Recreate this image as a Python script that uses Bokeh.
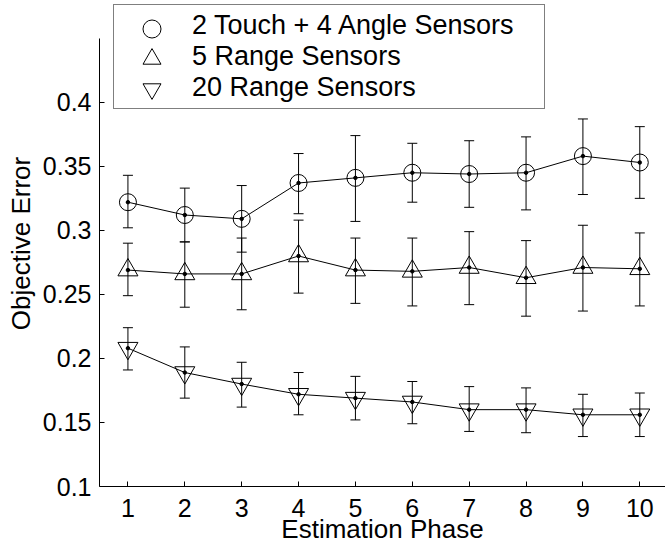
from bokeh.plotting import figure
from bokeh.models import (ColumnDataSource, Whisker, TeeHead, Legend, LegendItem,
                          FixedTicker, Range1d)
from bokeh.embed import file_html
from bokeh.resources import INLINE

# ---------------- data ----------------
phases = [1, 2, 3, 4, 5, 6, 7, 8, 9, 10]

touch_mean = [0.322, 0.312, 0.309, 0.337, 0.341, 0.345, 0.344, 0.345, 0.358, 0.353]
touch_upper = [0.343, 0.333, 0.335, 0.360, 0.374, 0.368, 0.370, 0.373, 0.387, 0.381]
touch_lower = [0.302, 0.291, 0.283, 0.313, 0.307, 0.322, 0.318, 0.316, 0.328, 0.325]

range5_mean = [0.269, 0.266, 0.266, 0.280, 0.269, 0.268, 0.271, 0.263, 0.271, 0.270]
range5_upper = [0.290, 0.291, 0.294, 0.308, 0.294, 0.294, 0.299, 0.292, 0.304, 0.298]
range5_lower = [0.249, 0.240, 0.238, 0.251, 0.243, 0.241, 0.242, 0.233, 0.237, 0.241]

range20_mean = [0.208, 0.189, 0.180, 0.172, 0.169, 0.166, 0.160, 0.160, 0.156, 0.156]
range20_upper = [0.224, 0.209, 0.197, 0.189, 0.186, 0.182, 0.178, 0.177, 0.172, 0.173]
range20_lower = [0.191, 0.169, 0.162, 0.156, 0.152, 0.149, 0.143, 0.142, 0.139, 0.139]

series_labels = ["2 Touch + 4 Angle Sensors", "5 Range Sensors", "20 Range Sensors"]
series_markers = ["circle", "triangle", "inverted_triangle"]

ytick_values = [0.1, 0.15, 0.2, 0.25, 0.3, 0.35, 0.4]
ytick_labels = ["0.1", "0.15", "0.2", "0.25", "0.3", "0.35", "0.4"]

x_label = "Estimation Phase"
y_label = "Objective Error"

# ---------------- figure ----------------
FONT = "Liberation Sans"

p = figure(width=665, height=546, output_backend="svg", toolbar_location=None,
           x_range=Range1d(0.5, 10.452), y_range=Range1d(0.1, 0.4795),
           min_border_left=99, min_border_right=0, min_border_top=0,
           min_border_bottom=58)
p.outline_line_color = None
p.grid.visible = False
p.background_fill_color = "white"
p.border_fill_color = "white"

for ax in (p.xaxis[0], p.yaxis[0]):
    ax.axis_line_color = "black"
    ax.axis_line_width = 1
    ax.major_tick_line_color = "black"
    ax.major_tick_in = 5
    ax.major_tick_out = 0
    ax.minor_tick_line_color = None
    ax.major_label_text_font = FONT
    ax.major_label_text_font_size = "25px"
    ax.major_label_text_color = "black"
    ax.axis_label_text_font = FONT
    ax.axis_label_text_font_size = "26px"
    ax.axis_label_text_font_style = "normal"
    ax.axis_label_text_color = "black"

p.xaxis.ticker = FixedTicker(ticks=phases)
p.xaxis.major_label_standoff = 12
p.xaxis.axis_label = x_label
p.xaxis.axis_label_standoff = -6
p.xaxis.axis_label_text_line_height = 0.6

p.yaxis.ticker = FixedTicker(ticks=ytick_values)
p.yaxis.major_label_overrides = {v: s for v, s in zip(ytick_values, ytick_labels)}
p.yaxis.major_label_standoff = 8
p.yaxis.bounds = (0.1, 0.45)
p.yaxis.axis_label = y_label
p.yaxis.axis_label_standoff = 4

all_means = [touch_mean, range5_mean, range20_mean]
all_upper = [touch_upper, range5_upper, range20_upper]
all_lower = [touch_lower, range5_lower, range20_lower]
marker_sizes = [17, 20, 20]

marker_renderers = []
for mk, ms, mean, up, lo in zip(series_markers, marker_sizes,
                                all_means, all_upper, all_lower):
    src = ColumnDataSource(dict(x=phases, y=mean, upper=up, lower=lo))
    wh = Whisker(source=src, base="x", upper="upper", lower="lower",
                 line_color="black", line_width=1,
                 upper_head=TeeHead(size=10, line_color="black", line_width=1),
                 lower_head=TeeHead(size=10, line_color="black", line_width=1))
    p.add_layout(wh)
    p.line("x", "y", source=src, line_color="black", line_width=1)
    r = p.scatter("x", "y", source=src, marker=mk, size=ms, fill_color=None,
                  line_color="black", line_width=1)
    p.scatter("x", "y", source=src, marker="circle", size=3.5,
              fill_color="black", line_color="black")
    marker_renderers.append(r)

# legend box with the texts
legend = Legend(items=[LegendItem(label=lab, renderers=[]) for lab in series_labels],
                location=(14, 377),
                label_text_font=FONT, label_text_font_size="27px",
                label_text_color="black",
                border_line_color="black", border_line_width=1.5,
                background_fill_color="white", background_fill_alpha=1.0,
                padding=5, spacing=0, glyph_width=70, glyph_height=20,
                label_height=20, label_width=347, label_standoff=3, margin=0)
p.add_layout(legend)

# full-size legend markers, one small legend per row
row_bottoms = [435, 405, 375]
for r, yb in zip(marker_renderers, row_bottoms):
    lg = Legend(items=[LegendItem(label=" ", renderers=[r])],
                location=(30, yb), padding=0, spacing=0, margin=0,
                glyph_width=45, glyph_height=45, label_width=0, label_height=0,
                label_standoff=0, label_text_font_size="1px",
                border_line_color=None, background_fill_alpha=0.0)
    p.add_layout(lg)

open("out.html", "w").write(file_html(p, INLINE))
